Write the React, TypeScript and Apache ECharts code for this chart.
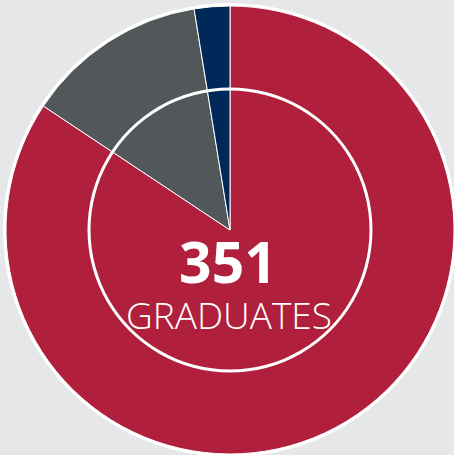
import React, { useEffect, useRef } from "react";
import * as echarts from "echarts";

const categories = ["Group A", "Group B", "Group C"];
const values = [296, 46, 9];
const colors = ["#b01f3b", "#525759", "#00295a"];
const totalLabel = "351";
const subLabel = "GRADUATES";

export default function App() {
  const ref = useRef<HTMLDivElement>(null);
  useEffect(() => {
    const chart = echarts.init(ref.current!, null, { renderer: "svg" });
    chart.setOption({
      animation: false,
      backgroundColor: "#e6e7e9",
      series: [
        {
          type: "pie",
          silent: true,
          center: [230, 230],
          radius: [0, 227],
          label: { show: false },
          labelLine: { show: false },
          itemStyle: { color: "#ffffff" },
          data: [{ name: "bg", value: 1 }],
          z: 1,
        },
        {
          type: "pie",
          center: [230, 230],
          radius: [0, 224],
          startAngle: 90,
          clockwise: true,
          label: { show: false },
          labelLine: { show: false },
          itemStyle: { borderColor: "#ffffff", borderWidth: 1 },
          data: categories.map((c, i) => ({
            name: c,
            value: values[i],
            itemStyle: { color: colors[i] },
          })),
          z: 2,
        },
        {
          type: "pie",
          silent: true,
          center: [230, 230],
          radius: [139.5, 142.5],
          label: { show: false },
          labelLine: { show: false },
          itemStyle: { color: "#ffffff" },
          data: [{ name: "ring", value: 1 }],
          z: 3,
        },
      ],
      graphic: [
        {
          type: "text",
          z: 10,
          style: {
            text: totalLabel,
            x: 228,
            y: 261,
            textAlign: "center",
            textVerticalAlign: "middle",
            fill: "#ffffff",
            font: '700 57px "Open Sans"',
          },
        },
        {
          type: "text",
          z: 10,
          style: {
            text: subLabel,
            x: 229,
            y: 314,
            textAlign: "center",
            textVerticalAlign: "middle",
            fill: "#ffffff",
            font: '300 37px "Open Sans"',
          },
        },
      ],
    });
    return () => chart.dispose();
  }, []);
  return (
    <div
      ref={ref}
      style={{ position: "fixed", left: 0, top: 0, width: 454, height: 455 }}
    />
  );
}
